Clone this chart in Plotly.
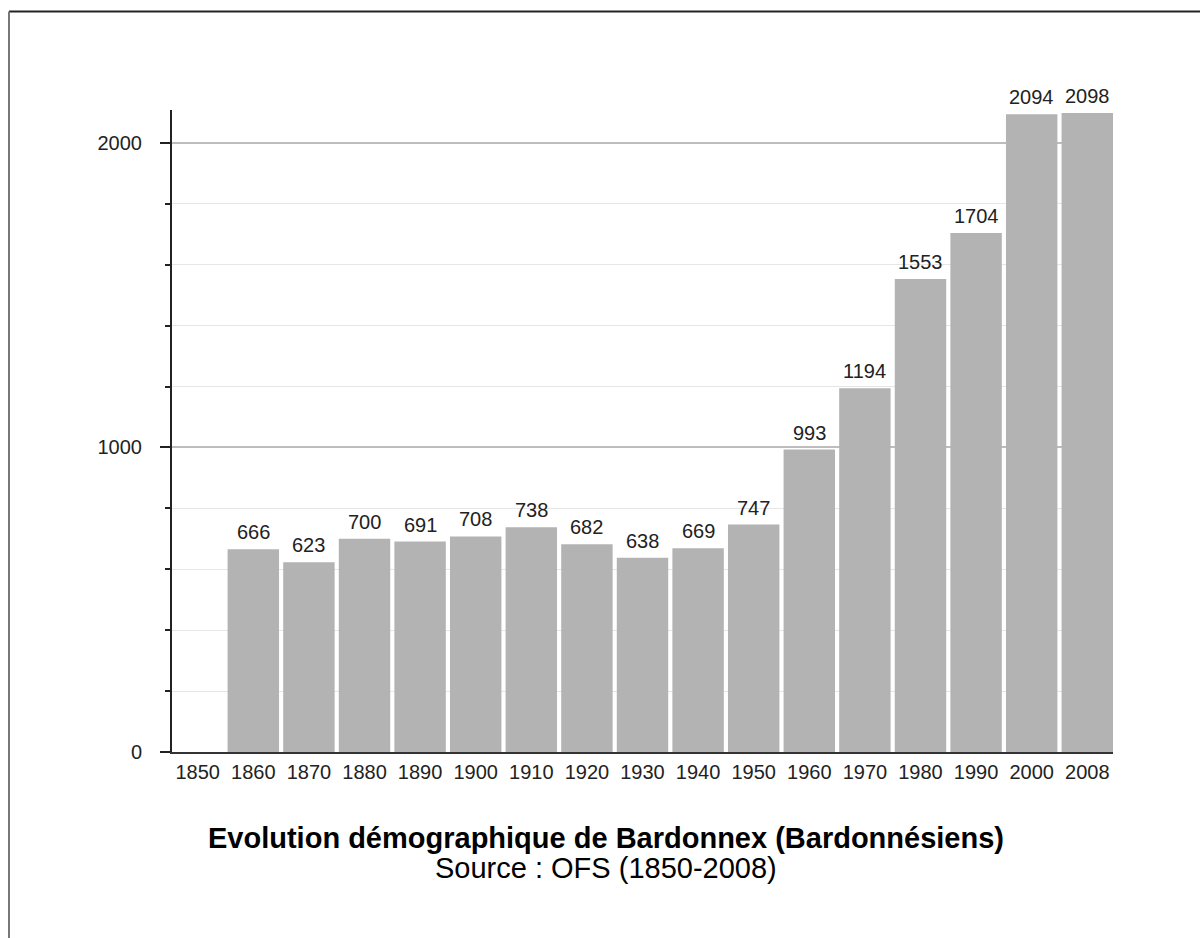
import plotly.graph_objects as go

# Population of Bardonnex by census year
years = ["1850", "1860", "1870", "1880", "1890", "1900", "1910", "1920", "1930",
         "1940", "1950", "1960", "1970", "1980", "1990", "2000", "2008"]
population = [None, 666, 623, 700, 691, 708, 738, 682, 638,
              669, 747, 993, 1194, 1553, 1704, 2094, 2098]

title_text = "Evolution démographique de Bardonnex (Bardonnésiens)"
source_text = "Source : OFS (1850-2008)"

FONT = "Liberation Sans, Arial, Helvetica, sans-serif"

W, H = 1200, 938
ML, MR, MT, MB = 172, 87, 110, 186
plot_w = W - ML - MR
plot_h = H - MT - MB


def px_x(px):
    return (px - ML) / plot_w


def px_y(py):
    return (H - MB - py) / plot_h


fig = go.Figure()
fig.add_trace(go.Bar(
    x=years,
    y=population,
    marker=dict(color="#b3b3b3", line=dict(width=0)),
    hoverinfo="x+y",
))

# value labels above each bar (category index as position)
for i, val in enumerate(population):
    if val is None:
        continue
    fig.add_annotation(
        x=i, y=val, text=str(val), showarrow=False,
        xref="x", yref="y", yanchor="bottom", yshift=4,
        font=dict(family=FONT, size=20, color="#222222"),
    )

# caption below the chart
fig.add_annotation(
    x=px_x(606), y=px_y(838), xref="paper", yref="paper",
    text=f"<b>{title_text}</b>", showarrow=False,
    xanchor="center", yanchor="middle",
    font=dict(family=FONT, size=29, color="#000000"),
)
fig.add_annotation(
    x=px_x(606), y=px_y(868), xref="paper", yref="paper",
    text=source_text, showarrow=False,
    xanchor="center", yanchor="middle",
    font=dict(family=FONT, size=29, color="#000000"),
)

# frame lines along the top and left edges of the image
fig.add_shape(type="line", xref="paper", yref="paper",
              x0=px_x(9), x1=px_x(1200), y0=px_y(11.5), y1=px_y(11.5),
              line=dict(color="#222222", width=2))
fig.add_shape(type="line", xref="paper", yref="paper",
              x0=px_x(9), x1=px_x(9), y0=px_y(11.5), y1=px_y(938),
              line=dict(color="#777777", width=2))

fig.update_layout(
    width=W, height=H, autosize=False,
    margin=dict(l=ML, r=MR, t=MT, b=MB, pad=0),
    paper_bgcolor="white", plot_bgcolor="white",
    showlegend=False,
    bargap=0.075,
    font=dict(family=FONT, size=20, color="#222222"),
)

fig.update_xaxes(
    type="category",
    range=[-0.4625, 16.4625],
    showline=True, linecolor="#333333", linewidth=2,
    showgrid=False, ticks="", zeroline=False,
    tickfont=dict(family=FONT, size=20, color="#222222"),
    ticklabelstandoff=1,
)

fig.update_yaxes(
    range=[0, 2108],
    tickvals=[0, 1000, 2000],
    showline=True, linecolor="#222222", linewidth=2,
    ticks="outside", ticklen=10, tickwidth=2, tickcolor="#222222",
    showgrid=True, gridcolor="#bdbdbd", gridwidth=1.5,
    zeroline=False,
    tickfont=dict(family=FONT, size=20, color="#222222"),
    ticklabelstandoff=14,
    minor=dict(dtick=200, tick0=0, ticks="outside", ticklen=5, tickwidth=2,
               tickcolor="#222222", showgrid=True, gridcolor="#e6e6e6",
               gridwidth=1),
)

fig.write_html("out.html")
